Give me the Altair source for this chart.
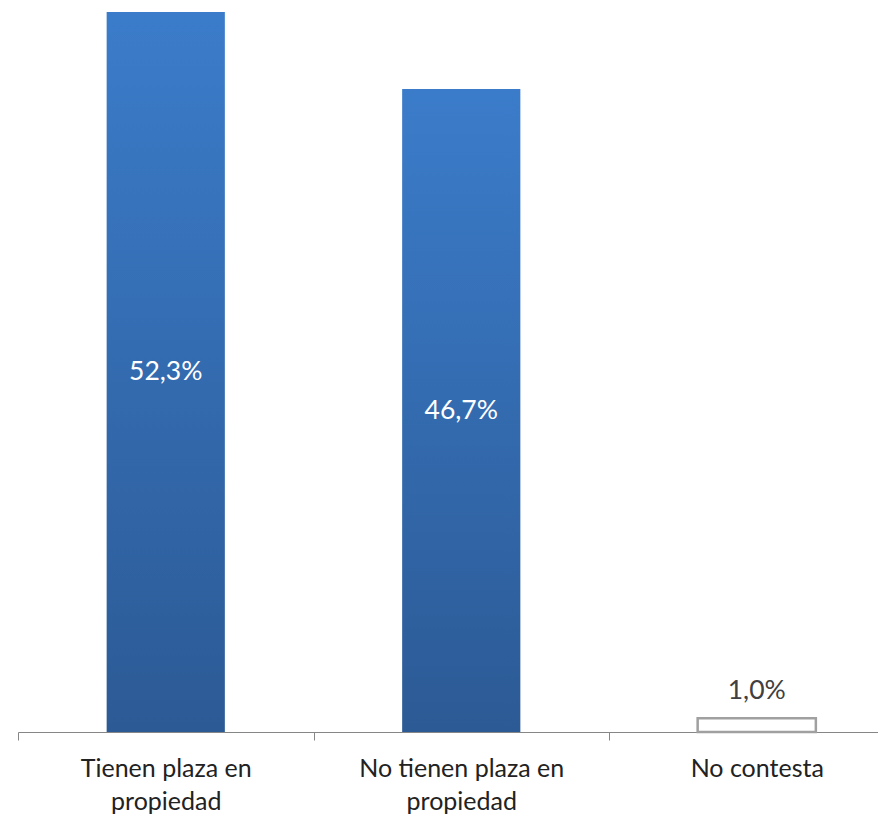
import altair as alt
import pandas as pd

categories = ["Tienen plaza en|propiedad", "No tienen plaza en|propiedad", "No contesta"]
values = [52.3, 46.7, 1.0]
labels = ["52,3%", "46,7%", "1,0%"]
kind = ["blue", "blue", "empty"]

df = pd.DataFrame({"cat": categories, "value": values, "label": labels, "kind": kind})

FONT = "Lato"

x = alt.X(
    "cat:N",
    sort=categories,
    scale=alt.Scale(range=[0, 886.5], paddingInner=0, paddingOuter=0),
    axis=alt.Axis(
        title=None,
        labelAngle=0,
        tickBand="extent",
        labelExpr="split(datum.label, '|')",
        labelFont=FONT,
        labelFontSize=25,
        labelColor="#222222",
        labelLineHeight=33,
        labelPadding=16,
        labelBaseline="top",
        tickSize=8,
        tickColor="#868686",
        domainColor="#868686",
        labelLimit=400,
    ),
)
y = alt.Y("value:Q", scale=alt.Scale(domain=[0, 52.3], nice=False, zero=True), axis=None)

gradient = alt.LinearGradient(
    gradient="linear",
    x1=0, y1=0, x2=0, y2=1,
    stops=[alt.GradientStop(color="#3b7cca", offset=0), alt.GradientStop(color="#2c5a95", offset=1)],
)

base = alt.Chart(df)

bars_blue = base.transform_filter("datum.kind == 'blue'").mark_bar(
    width={"band": 0.4}, color=gradient
).encode(x=x, y=y)

bars_empty = base.transform_filter("datum.kind == 'empty'").mark_bar(
    width={"band": 0.4}, fill="white", stroke="#a0a0a0", strokeWidth=2.5
).encode(x=x, y=y)

text_in = base.transform_filter("datum.kind == 'blue'").transform_calculate(
    mid="datum.value / 2"
).mark_text(font=FONT, fontSize=26.5, color="white", baseline="middle").encode(
    x=x, y=alt.Y("mid:Q", scale=alt.Scale(domain=[0, 52.3], nice=False), axis=None), text="label:N"
)

text_out = base.transform_filter("datum.kind == 'empty'").mark_text(
    font=FONT, fontSize=26.5, color="#404040", baseline="bottom", dy=-13
).encode(x=x, y=y, text="label:N")

chart = alt.layer(bars_blue, bars_empty, text_in, text_out).properties(
    width=860,
    height=720,
    autosize=alt.AutoSizeParams(type="none"),
    padding={"left": 10, "top": 4, "right": 0, "bottom": 84},
).configure_view(stroke=None)

chart.save("out.html", embed_options={"renderer": "svg", "actions": False})
